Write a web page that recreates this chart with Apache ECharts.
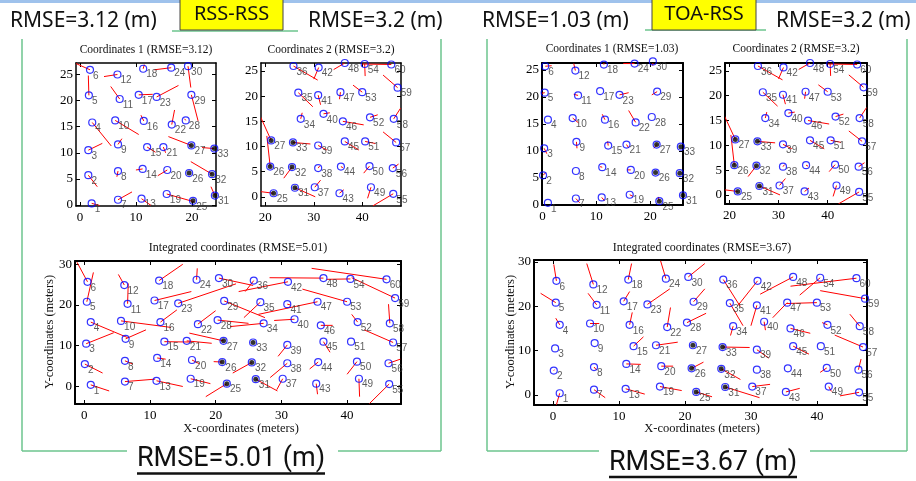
<!DOCTYPE html>
<html><head><meta charset="utf-8">
<script src="https://cdn.jsdelivr.net/npm/echarts@6/dist/echarts.min.js"></script>
<style>html,body{margin:0;padding:0;background:#fff}#c{width:916px;height:481px}</style>
</head><body><div id="c"></div>
<script>
// ---------------- DATA ----------------
const nodeIds = [1,2,3,4,5,6,7,8,9,10,11,12,13,14,15,16,17,18,19,20,21,22,23,24,25,26,27,28,29,30,
  31,32,33,34,35,36,37,38,39,40,41,42,43,44,45,46,47,48,49,50,51,52,53,54,55,56,57,58,59,60];
const anchorIds = [25,26,27,31,32,33];
const coord1Ids = [1,2,3,4,5,6,7,8,9,10,11,12,13,14,15,16,17,18,19,20,21,22,23,24,25,26,27,28,29,30,31,32,33];
const coord2Ids = [25,26,27,31,32,33,34,35,36,37,38,39,40,41,42,43,44,45,46,47,48,49,50,51,52,53,54,55,56,57,58,59,60];

// true node positions (blue circles)
const truthX = [1.0,0.1,0.3,1.0,0.4,0.5, 6.2,6.2,6.3,5.6,6.6,6.1, 11.0,11.1,12.2,11.6,10.7,11.4, 16.2,16.4,15.6,17.3,14.3,17.1,
  21.7,21.0,21.2,20.3,21.3,20.5, 26.1,25.5,25.7,27.3,26.8,25.8, 30.2,30.9,30.9,32.0,30.9,31.0, 35.3,35.6,36.4,36.0,35.5,36.4,
  41.8,41.5,40.6,41.6,40.0,40.5, 46.4,46.3,47.0,46.5,47.3,46.0];
const truthY = [0.4,5.5,10.5,15.8,20.8,25.7, 1.2,6.3,11.7,16.1,20.3,24.9, 1.4,7.0,11.0,15.8,21.1,26.0, 1.9,6.5,11.2,15.3,20.4,26.2,
  0.7,6.0,11.2,16.3,21.0,26.6, 1.8,5.9,10.8,15.5,20.7,26.0, 1.9,5.7,10.2,16.5,20.2,25.7, 0.7,6.0,11.0,15.0,20.8,26.6,
  1.9,6.1,11.0,15.8,20.8,26.4, 0.6,5.7,10.8,15.5,21.7,26.3];

// RSS-RSS, Coordinates 1: node positions as drawn in that sub-plot
const c1LeftX = [2.1,1.5,1.5,2.2,1.6,1.8, 6.8,6.8,6.8,6.3,7.1,6.7, 11.0,11.2,12.0,11.4,10.5,11.3, 15.5,15.6,14.9,16.4,13.7,16.3,
  20.2,19.5,19.9,18.9,19.9,19.3, 24.1,23.6,24.0];
const c1LeftY = [0.3,5.7,10.5,15.8,21.0,25.9, 1.0,6.5,11.6,16.2,20.3,25.0, 1.2,6.9,11.1,16.1,21.1,26.1, 2.1,6.7,11.1,15.4,20.7,26.3,
  0.8,6.1,11.4,16.2,21.1,26.6, 1.8,5.9,10.8];
// RSS-RSS, Coordinates 1: estimates
const estC1LeftX = [3.5,3.1,4.0,5.6,1.5,-0.7, 9.3,6.6,7.5,10.5,5.5,4.3, 12.7,10.0,13.5,10.9,13.0,11.5, 20.4,13.9,15.3,16.9,17.6,13.3,
  20.2,19.5,15.8,18.7,21.1,19.8, 23.4,19.8,21.8];
const estC1LeftY = [-0.1,3.5,11.8,11.3,24.8,27.1, 2.5,5.4,12.7,13.5,22.7,24.6, -0.1,6.7,10.1,17.2,21.2,26.9, 0.6,5.6,10.0,18.2,22.9,25.9,
  0.8,6.1,13.1,16.5,16.1,22.5, 3.5,8.3,11.0];
// Coordinates 2 (same in both panels): estimates for coord2Ids
const estC2X = [17.6,20.3,19.0, 30.3,23.8,29.3,27.6,29.8,30.8, 31.4,31.2,32.7,33.3,31.4,30.0, 36.2,36.0,39.3,40.3,35.3,34.1,
  41.1,40.3,42.7,43.2,38.1,40.6, 42.2,47.5,44.3,47.9,44.3,40.0];
const estC2Y = [1.2,12.1,15.9, 0.0,3.7,10.5,16.7,17.9,23.2, 3.3,6.1,9.3,16.7,18.3,23.4, 1.4,5.8,9.3,14.3,19.4,25.3,
  -0.3,4.7,10.6,16.3,22.2,24.0, -1.8,6.5,12.9,17.6,24.2,26.4];
// RSS-RSS integrated estimates
const estIntLeftX = [3.8,2.8,4.5,6.6,1.4,-1.1, 10.8,7.4,9.4,13.2,6.7,5.2, 15.0,12.4,16.4,14.1,16.3,15.0, 19.2,17.5,19.4,20.0,23.1,17.2,
  18.5,19.7,16.0,25.0,27.5,25.7, 29.4,22.6,25.7,22.2,24.3,24.5, 29.3,28.3,29.5,28.9,31.4,23.5, 35.5,34.3,37.4,37.8,26.5,28.2,
  41.9,40.0,40.6,40.7,33.2,36.9, 43.4,48.1,42.6,46.3,40.7,34.6];
const estIntLeftY = [-1.1,3.3,13.2,12.0,28.0,30.5, 1.8,5.5,13.9,14.5,25.3,27.5, 0.0,6.7,10.9,18.8,23.3,30.0, 0.7,5.6,10.6,18.6,25.2,29.0,
  -2.5,6.1,13.1,15.5,16.9,24.8, -1.1,3.3,10.8,14.7,16.9,23.3, -0.8,2.2,7.4,16.2,20.0,23.3, -1.9,4.3,8.4,15.0,17.7,26.7,
  -2.5,3.0,11.0,17.7,23.9,26.3, -4.2,6.7,13.9,20.2,26.7,29.0];
// TOA-RSS, Coordinates 1 estimates
const estC1RightX = [1.0,0.6,0.8,1.0,-0.1,1.7, 6.9,6.2,6.4,6.7,5.8,5.8, 11.5,10.7,12.1,11.1,10.7,11.4, 16.8,15.7,16.0,16.0,16.0,15.0,
  21.5,21.0,20.7,20.3,20.3,20.5, 26.1,25.5,25.7];
const estC1RightY = [0.4,6.0,9.5,15.8,20.7,25.8, 0.4,6.3,10.5,15.2,20.5,26.2, 0.8,7.1,11.8,16.8,21.1,26.3, 1.6,6.5,10.6,17.5,20.8,26.2,
  1.5,6.0,10.5,16.3,20.4,25.8, 1.8,5.9,10.8];
// TOA-RSS integrated estimates
const estIntRightX = [0.5,0.2,0.3,0.4,-1.9,0.1, 7.9,6.6,6.3,7.0,5.3,5.1, 13.9,13.3,13.7,12.0,11.6,11.9, 19.5,18.2,18.9,17.8,17.7,16.3,
  24.1,22.8,21.2,23.2,23.0,23.0, 31.3,28.4,29.8,26.9,28.8,28.4, 32.9,30.9,32.7,32.2,30.0,28.0, 37.4,35.6,38.8,39.0,33.3,31.4,
  42.2,40.5,40.6,40.8,35.4,37.4, 43.5,46.7,42.7,45.0,40.5,36.0];
const estIntRightY = [-2.2,5.7,10.5,17.3,22.9,29.4, -0.6,5.6,11.7,16.1,22.9,29.6, 0.2,6.9,13.1,18.6,23.3,29.6, 1.0,6.5,11.9,19.7,23.9,30.2,
  -0.4,7.4,11.2,18.4,23.9,29.6, -0.6,3.5,10.7,13.4,15.6,19.9, 2.4,5.7,8.3,14.6,15.6,20.1, 1.5,6.0,9.2,13.9,17.4,22.7,
  0.8,5.1,11.0,16.3,20.6,22.5, -0.2,8.1,13.5,18.2,23.5,24.5];

// tick labels
const xTicksC1 = [0,10,20];
const xTicksC2 = [20,30,40];
const yTicksC = [0,5,10,15,20,25];
const xTicksInt = [0,10,20,30,40];
const yTicksInt = [0,10,20,30];

// texts
const titles = ['Coordinates 1 (RMSE=3.12)','Coordinates 2 (RMSE=3.2)','Integrated coordinates (RMSE=5.01)',
                'Coordinates 1 (RMSE=1.03)','Coordinates 2 (RMSE=3.2)','Integrated coordinates (RMSE=3.67)'];
const topTexts = ['RMSE=3.12 (m)','RSS-RSS','RMSE=3.2 (m)','RMSE=1.03 (m)','TOA-RSS','RMSE=3.2 (m)'];
const bottomTexts = ['RMSE=5.01 (m)','RMSE=3.67 (m)'];
const xName = 'X-coordinates (meters)', yName = 'Y-coordinates (meters)';

// ---------------- CHART ----------------
const SERIF = '"Liberation Serif","Times New Roman",serif';
const grids = [
  {left:76, top:63, width:140, height:143},
  {left:261, top:63, width:140, height:143},
  {left:75, top:261, width:326, height:143},
  {left:542, top:63, width:141, height:142},
  {left:725, top:63, width:142, height:141},
  {left:534, top:260, width:333, height:145}
];
const ranges = [
  {x:[-0.7,24.3], y:[-0.2,27.2], xt:xTicksC1, yt:yTicksC, lw:1.5},
  {x:[19.1,48.0], y:[-1.83,26.6], xt:xTicksC2, yt:yTicksC, lw:1.5},
  {x:[-1.4,48.2], y:[-4.3,30.8], xt:xTicksInt, yt:yTicksInt, lw:2},
  {x:[-0.1,26.1], y:[0,26.3], xt:xTicksC1, yt:yTicksC, lw:2},
  {x:[19.1,48.0], y:[-1.83,26.6], xt:xTicksC2, yt:yTicksC, lw:2},
  {x:[-2.9,47.6], y:[-2.25,30.4], xt:xTicksInt, yt:yTicksInt, lw:2}
];
const xAxes = [], yAxes = [], series = [];
ranges.forEach(function(r, gi){
  const line = {show:true, onZero:false, lineStyle:{color:'#000', width:r.lw}};
  const lab = function(vals, show, m){ return {show:show, customValues:vals, fontFamily:SERIF, fontSize:13, color:'#000', margin:m}; };
  const tick = function(vals){ return {show:true, inside:true, length:4, customValues:vals, lineStyle:{color:'#000', width:1}}; };
  ['bottom','top'].forEach(function(pos, k){
    xAxes.push({type:'value', gridIndex:gi, min:r.x[0], max:r.x[1], position:pos, axisLine:line,
      axisTick:tick(r.xt), axisLabel:lab(r.xt, k===0, 5), splitLine:{show:false}});
  });
  ['left','right'].forEach(function(pos, k){
    yAxes.push({type:'value', gridIndex:gi, min:r.y[0], max:r.y[1], position:pos, axisLine:line,
      axisTick:tick(r.yt), axisLabel:lab(r.yt, k===0, 3), splitLine:{show:false}});
  });
});

function lineItem(params, api){
  const a = api.coord([api.value(0), api.value(1)]);
  const b = api.coord([api.value(2), api.value(3)]);
  return {type:'line', shape:{x1:a[0], y1:a[1], x2:b[0], y2:b[1]}, style:{stroke:'#ff0000', lineWidth:1}};
}
function addPlot(gi, ids, cx, cy, ex, ey){
  const ax = 2*gi;
  series.push({type:'custom', xAxisIndex:ax, yAxisIndex:ax, renderItem:lineItem, clip:true, silent:true, z:2,
    encode:{x:[0,2], y:[1,3]}, data: ids.map(function(id,i){ return [cx[i], cy[i], ex[i], ey[i]]; })});
  series.push({type:'scatter', xAxisIndex:ax, yAxisIndex:ax, clip:false, silent:true, z:3,
    symbol:'circle', symbolSize:7,
    itemStyle:{color:'rgba(0,0,0,0)', borderColor:'#0000ff', borderWidth:1.2},
    label:{show:true, position:'right', distance:0, offset:[-1,6], fontSize:10, color:'#333',
      fontFamily:'"Liberation Sans",Arial,sans-serif', formatter:function(p){ return p.value[2]; }},
    encode:{x:0, y:1},
    data: ids.map(function(id,i){ return [cx[i], cy[i], id]; })});
  const an = [];
  ids.forEach(function(id,i){ if (anchorIds.indexOf(id) >= 0) an.push([cx[i], cy[i]]); });
  series.push({type:'scatter', xAxisIndex:ax, yAxisIndex:ax, clip:false, silent:true, z:4,
    symbol:'circle', symbolSize:5, itemStyle:{color:'#000'}, data:an});
}
const pick = function(arr, ids){ return ids.map(function(id){ return arr[id-1]; }); };

addPlot(0, coord1Ids, c1LeftX, c1LeftY, estC1LeftX, estC1LeftY);
addPlot(1, coord2Ids, pick(truthX, coord2Ids), pick(truthY, coord2Ids), estC2X, estC2Y);
addPlot(2, nodeIds, truthX, truthY, estIntLeftX, estIntLeftY);
addPlot(3, coord1Ids, pick(truthX, coord1Ids), pick(truthY, coord1Ids), estC1RightX, estC1RightY);
addPlot(4, coord2Ids, pick(truthX, coord2Ids), pick(truthY, coord2Ids), estC2X, estC2Y);
addPlot(5, nodeIds, truthX, truthY, estIntRightX, estIntRightY);

// ---------------- DECORATION ----------------
const G = [];
const GREEN = '#6cc58e';
function gl(x1,y1,x2,y2,c,w){ G.push({type:'line', silent:true, z:1, shape:{x1:x1,y1:y1,x2:x2,y2:y2}, style:{stroke:c, lineWidth:w}}); }
function gt(txt,x,y,font,align,color,rot){
  G.push({type:'text', silent:true, z:10, x:x, y:y, rotation:rot||0,
    style:{text:txt, font:font, fill:color||'#000', textAlign:align||'center', textVerticalAlign:'middle'}});
}
gl(0,1.5,916,1.5,'#9fc2ec',3);
// left frame
gl(22,39,22,451,GREEN,1.5); gl(441,39,441,451,GREEN,1.5);
gl(22,451,127,451,GREEN,1.5); gl(338,451,441,451,GREEN,1.5);
gl(172,31,298,31,GREEN,1.5);
// right frame
gl(487,39,487,451,GREEN,1.5); gl(907,39,907,451,GREEN,1.5);
gl(487,451,599,451,GREEN,1.5); gl(810,451,907,451,GREEN,1.5);
gl(645,30,766,30,GREEN,1.5);
// yellow boxes
G.push({type:'rect', silent:true, z:5, shape:{x:180, y:-1, width:103, height:31}, style:{fill:'#ffff00', stroke:'#444', lineWidth:1}});
G.push({type:'rect', silent:true, z:5, shape:{x:652, y:-1, width:104, height:31}, style:{fill:'#ffff00', stroke:'#444', lineWidth:1}});
const TOPF = '21px "Noto Sans","Open Sans",sans-serif';
gt(topTexts[0], 10, 21.5, TOPF, 'left', '#111');
gt(topTexts[1], 231.5, 14, '20px "Noto Sans","Open Sans",sans-serif', 'center', '#111');
gt(topTexts[2], 308, 21.5, TOPF, 'left', '#111');
gt(topTexts[3], 482, 21.5, TOPF, 'left', '#111');
gt(topTexts[4], 704, 14, '20px "Noto Sans","Open Sans",sans-serif', 'center', '#111');
gt(topTexts[5], 776, 21.5, TOPF, 'left', '#111');
// bottom RMSE
const BF = '27px Roboto,"Noto Sans",sans-serif';
gt(bottomTexts[0], 231, 459, BF, 'center', '#111');
gl(137,473.5,325,473.5,'#111',2.5);
gt(bottomTexts[1], 703, 463, BF, 'center', '#111');
gl(609,477,797,477,'#111',2.5);
// titles
const TF = '11.5px ' + SERIF;
const titlePos = [[146,50],[331,50],[238,248],[612,49],[796,49],[702,248]];
titles.forEach(function(t,i){ gt(t, titlePos[i][0], titlePos[i][1], (i===2||i===5) ? '12px '+SERIF : TF, 'center', '#111'); });
// axis names
const NF = '12.5px ' + SERIF;
gt(xName, 241, 429, NF, 'center', '#111');
gt(xName, 702, 429, NF, 'center', '#111');
gt(yName, 50, 332, NF, 'center', '#111', Math.PI/2);
gt(yName, 511, 332, NF, 'center', '#111', Math.PI/2);

const chart = echarts.init(document.getElementById('c'), null, {renderer:'canvas'});
chart.setOption({
  animation:false, backgroundColor:'#fff',
  grid: grids.map(function(g){ return Object.assign({containLabel:false}, g); }),
  xAxis: xAxes, yAxis: yAxes, series: series, graphic: G
});
</script>
</body></html>
